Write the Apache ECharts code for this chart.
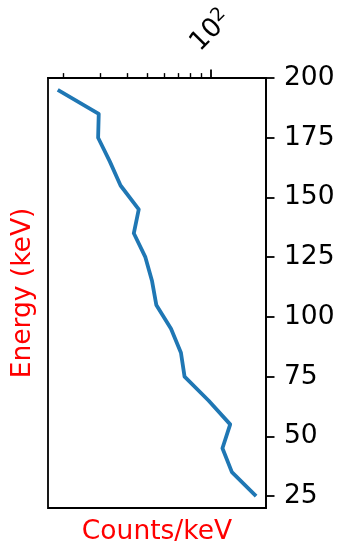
<!DOCTYPE html>
<html>
<head>
<meta charset="utf-8">
<script src="https://cdn.jsdelivr.net/npm/echarts@6/dist/echarts.min.js"></script>
<style>
  html, body { margin: 0; padding: 0; background: #fff; }
  #chart { width: 339px; height: 544px; }
</style>
</head>
<body>
<div id="chart"></div>
<script>
// Spectrum: counts per keV in each 10 keV energy bin
const energies = [195, 185, 175, 165, 155, 145, 135, 125, 115, 105, 95, 85, 75, 65, 55, 45, 35, 25];
const counts = [18.8, 29.4, 29.2, 33.2, 37.3, 45.5, 43.1, 48.9, 52.6, 55.1, 64.7, 72.1, 75.0, 97.4, 123.4, 113.4, 125.7, 163.7];

// Axis ticks
const energyTicks = [25, 50, 75, 100, 125, 150, 175, 200];
const countMajorTicks = [100];
const countMinorTicks = [20, 30, 40, 50, 60, 70, 80, 90];

const FONT = 'DejaVu Sans';
const FS = 26.5;
const countMin = 16.9, countMax = 182.4;

const chart = echarts.init(document.getElementById('chart'));

chart.setOption({
  animation: false,
  backgroundColor: '#fff',
  textStyle: { fontFamily: FONT },
  grid: {
    left: 48, top: 78, width: 218, height: 430,
    containLabel: false, outerBoundsMode: 'none',
    show: true, borderColor: '#000', borderWidth: 1.8, backgroundColor: '#fff'
  },
  xAxis: [
    {
      type: 'log', logBase: 10, position: 'top', min: countMin, max: countMax,
      axisLine: { show: true, onZero: false, lineStyle: { color: '#000', width: 1.8 } },
      axisTick: { show: true, inside: false, length: 8.5, customValues: countMajorTicks,
                  lineStyle: { color: '#000', width: 1.8 } },
      axisLabel: {
        show: true, rotate: -45, margin: 47, customValues: countMajorTicks,
        align: 'center', verticalAlign: 'middle',
        formatter: v => '{b|10}{s|2}',
        rich: {
          b: { fontFamily: FONT, fontSize: FS, color: '#000' },
          s: { fontFamily: FONT, fontSize: FS * 0.7, color: '#000', verticalAlign: 'top', padding: [0, 0, 12, 0] }
        }
      },
      splitLine: { show: false }
    },
    {
      type: 'log', logBase: 10, position: 'top', min: countMin, max: countMax,
      axisLine: { show: false, onZero: false },
      axisTick: { show: true, inside: false, length: 4.9, customValues: countMinorTicks,
                  lineStyle: { color: '#000', width: 1.4 } },
      axisLabel: { show: false },
      splitLine: { show: false }
    },
    {
      type: 'value', position: 'bottom', min: 0, max: 1,
      name: 'Counts/keV', nameLocation: 'middle', nameGap: 11,
      nameTextStyle: { color: '#ff0000', fontFamily: FONT, fontSize: FS },
      axisLine: { show: false, onZero: false }, axisTick: { show: false },
      axisLabel: { show: false }, splitLine: { show: false }
    }
  ],
  yAxis: [
    {
      type: 'value', position: 'right', min: 20, max: 200,
      axisLine: { show: true, onZero: false, lineStyle: { color: '#000', width: 1.8 } },
      axisTick: { show: true, inside: false, length: 8.5, customValues: energyTicks,
                  lineStyle: { color: '#000', width: 1.8 } },
      axisLabel: { show: true, margin: 18, customValues: energyTicks,
                   fontFamily: FONT, fontSize: FS, color: '#000' },
      splitLine: { show: false }
    },
    {
      type: 'value', position: 'left', min: 0, max: 1,
      name: 'Energy (keV)', nameLocation: 'middle', nameGap: 11, nameRotate: 90,
      nameTextStyle: { color: '#ff0000', fontFamily: FONT, fontSize: FS },
      axisLine: { show: false, onZero: false }, axisTick: { show: false },
      axisLabel: { show: false }, splitLine: { show: false }
    }
  ],
  series: [
    {
      type: 'line', xAxisIndex: 0, yAxisIndex: 0,
      data: counts.map((c, i) => [c, energies[i]]),
      showSymbol: false, symbol: 'none',
      lineStyle: { color: '#1f77b4', width: 3.8, join: 'round', cap: 'butt' }
    }
  ]
});
</script>
</body>
</html>
